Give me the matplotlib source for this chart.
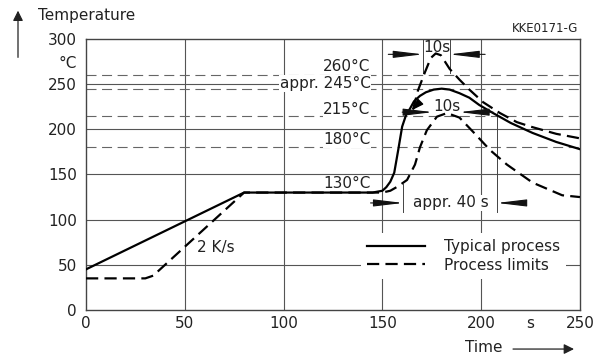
import matplotlib
matplotlib.use('Agg')
import matplotlib.pyplot as plt

# curve data (time in s, temperature in deg C)
typ_t = [0, 80, 145, 150, 152, 154, 156, 158, 160, 162, 164, 166, 169, 172, 176, 180, 184, 189, 194, 199, 206, 215, 226, 238, 250]
typ_T = [45, 130, 130, 132, 136, 142, 152, 177, 203, 216, 223, 231, 237, 241, 244, 245, 244, 240, 235, 227, 218, 207, 196, 186, 178]

upper_t = [165.5, 168, 171.5, 174.5, 177, 179.6, 184, 189, 194, 201, 209.5, 218, 225, 238, 250]
upper_T = [222, 243, 263, 279, 284, 282, 267, 255, 244, 230, 218, 208, 203, 195, 190]

lower_t = [0, 30, 34, 38, 80, 150, 154, 158, 162.5, 166.5, 169, 172.5, 177.6, 182.7, 189, 196, 204.5, 213, 226, 241, 250]
lower_T = [35, 35, 38, 46, 130, 130, 132, 137, 144, 161, 180, 199, 214, 218, 213, 197, 177, 161, 141, 127, 125]

ref_levels = [260, 245, 215, 180]
label_levels = [270, 251, 222, 189, 139.5]
label_texts = ['260°C', 'appr. 245°C', '215°C', '180°C', '130°C']

xticks = [0, 50, 100, 150, 200, 250]
yticks = [0, 50, 100, 150, 200, 250, 300]

plt.rcParams['font.family'] = 'DejaVu Sans'
plt.rcParams['font.size'] = 11

fig = plt.figure(figsize=(5.94, 3.58), dpi=100)
ax = fig.add_axes([0.1448, 0.1341, 0.8316, 0.757])
ax.set_xlim(0, 250)
ax.set_ylim(0, 300)

grid_c = '#555555'
for x in xticks[1:-1]:
    ax.axvline(x, color=grid_c, lw=0.8, zorder=1)
for y in yticks[1:-1]:
    ax.axhline(y, color=grid_c, lw=0.8, zorder=1)
for y in ref_levels:
    ax.axhline(y, color='#666666', lw=0.8, ls=(0, (9, 5)), zorder=1)

for y, s in zip(label_levels, label_texts):
    ax.text(144, y, s, ha='right', va='center', fontsize=11, color='#222222',
            bbox=dict(fc='white', ec='none', pad=0.5), zorder=3)

dash = (0, (5.5, 2.8))
ax.plot(typ_t, typ_T, color='black', lw=1.6, zorder=4, label='Typical process')
ax.plot(upper_t, upper_T, color='black', lw=1.6, ls=dash, zorder=4, label='Process limits')
ax.plot(lower_t, lower_T, color='black', lw=1.6, ls=dash, zorder=4)

ax.text(56, 69, '2 K/s', ha='left', va='center', fontsize=11, color='#222222', zorder=3)

# dimension arrows
arr = dict(arrowstyle='-|>,head_length=1.5,head_width=0.18', color='#111111', lw=0.8,
           shrinkA=0, shrinkB=0, mutation_scale=12)


def dim(tail, tip, y):
    ax.annotate('', xy=(tip, y), xytext=(tail, y), arrowprops=arr, zorder=5)


dim(153, 170.5, 283)
dim(202, 184, 283)
ax.plot([170.5, 170.5], [262, 300], color='#444444', lw=0.7, zorder=2)
ax.plot([184, 184], [262, 300], color='#444444', lw=0.7, zorder=2)
ax.text(177.5, 291, '10s', ha='center', va='center', fontsize=11, color='#222222', zorder=5)

dim(160, 175.5, 219)
dim(206, 189, 219)
ax.text(182.5, 225, '10s', ha='center', va='center', fontsize=11, color='#222222', zorder=5)

dim(144, 160.5, 118.5)
dim(220, 208, 118.5)
ax.plot([160.5, 160.5], [108, 140], color='#444444', lw=0.7, zorder=2)
ax.plot([208, 208], [108, 218], color='#444444', lw=0.7, zorder=2)
ax.text(184.5, 118.5, 'appr. 40 s', ha='center', va='center', fontsize=11, color='#222222',
        bbox=dict(fc='white', ec='none', pad=0.5), zorder=5)

ax.annotate('', xy=(164.8, 221), xytext=(168, 228),
            arrowprops=dict(arrowstyle='-|>,head_length=0.6,head_width=0.2', color='black',
                            lw=1.0, shrinkA=0, shrinkB=0, mutation_scale=12), zorder=5)

leg = ax.legend(loc='upper left', bbox_to_anchor=(0.557, 0.285), borderaxespad=0,
                handlelength=3.8, handletextpad=1.2, labelspacing=0.25, borderpad=0.4,
                frameon=True, fancybox=False, fontsize=11)
leg.get_frame().set_edgecolor('none')
leg.get_frame().set_facecolor('white')
leg.get_frame().set_alpha(1)
leg.set_zorder(6)
for t in leg.get_texts():
    t.set_color('#222222')

ax.set_xticks(xticks)
ax.set_yticks(yticks)
ax.tick_params(length=0, labelsize=11, colors='#222222')
ax.tick_params(axis='y', pad=6.5)
ax.tick_params(axis='x', pad=4.5)
for sp in ax.spines.values():
    sp.set_color('#444444')
    sp.set_linewidth(1.0)

ax.text(-0.018, 273, '°C', transform=ax.get_yaxis_transform(), ha='right', va='center',
        fontsize=11, color='#222222')
ax.text(225, -0.048, 's', transform=ax.get_xaxis_transform(), ha='center', va='center',
        fontsize=11, color='#222222')

fig.text(0.064, 0.958, 'Temperature', ha='left', va='center', fontsize=11, color='#222222')
fig.text(0.783, 0.028, 'Time', ha='left', va='center', fontsize=11, color='#222222')
fig.text(0.973, 0.919, 'KKE0171-G', ha='right', va='center', fontsize=8.5, color='#222222')
fig.add_artist(matplotlib.patches.FancyArrowPatch((0.0303, 0.832), (0.0303, 0.978),
               transform=fig.transFigure, arrowstyle='-|>,head_length=6,head_width=3',
               color='#222222', lw=0.9))
fig.add_artist(matplotlib.patches.FancyArrowPatch((0.859, 0.025), (0.971, 0.025),
               transform=fig.transFigure, arrowstyle='-|>,head_length=6,head_width=3',
               color='#222222', lw=0.9))

fig.savefig('out.png', dpi=100, facecolor='white')
